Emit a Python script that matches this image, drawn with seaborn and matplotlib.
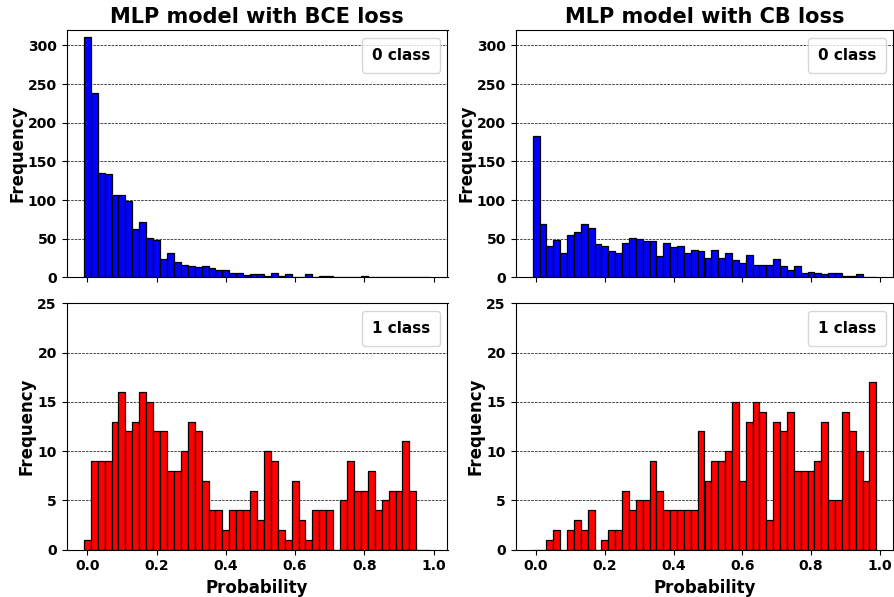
import numpy as np
import pandas as pd
import matplotlib
matplotlib.use("Agg")
import matplotlib.pyplot as plt
import seaborn as sns

# Bin centres (probability) shared by all four histograms
prob_bins = np.round(np.arange(50) * 0.02, 2)

bce_class0 = [311, 239, 135, 134, 106, 107, 99, 62, 72, 51,
              48, 24, 32, 20, 16, 14, 13, 15, 12, 9,
              9, 5, 5, 3, 4, 4, 2, 5, 2, 4,
              1, 1, 4, 1, 2, 2, 1, 1, 0, 1,
              2, 1, 0, 0, 1, 1, 1, 1, 0, 0]
bce_class1 = [1, 9, 9, 9, 13, 16, 12, 13, 16, 15,
              12, 12, 8, 8, 10, 13, 12, 7, 4, 4,
              2, 4, 4, 4, 6, 3, 10, 9, 2, 1,
              7, 3, 1, 4, 4, 4, 0, 5, 9, 6,
              6, 8, 4, 5, 6, 6, 11, 6, 0, 0]
cb_class0 = [183, 69, 41, 48, 32, 55, 58, 69, 64, 43,
             41, 34, 32, 44, 51, 50, 47, 47, 27, 44,
             39, 40, 32, 35, 34, 25, 35, 25, 32, 22,
             18, 29, 16, 16, 16, 24, 15, 10, 14, 5,
             7, 6, 4, 6, 6, 2, 2, 4, 1, 1]
cb_class1 = [0, 0, 1, 2, 0, 2, 3, 2, 4, 0,
             1, 2, 2, 6, 4, 5, 5, 9, 6, 4,
             4, 4, 4, 4, 12, 7, 9, 9, 10, 15,
             7, 13, 15, 14, 3, 13, 12, 14, 8, 8,
             8, 9, 13, 5, 5, 14, 12, 10, 7, 17]

titles = ["MLP model with BCE loss", "MLP model with CB loss"]
legend_labels = ["0 class", "1 class"]
xticks = [0.0, 0.2, 0.4, 0.6, 0.8, 1.0]

plt.rcParams['font.family'] = ['DejaVu Sans']
plt.rcParams['font.weight'] = 'bold'
plt.rcParams['axes.labelweight'] = 'bold'
plt.rcParams['axes.titleweight'] = 'bold'

W, H = 895, 597
fig = plt.figure(figsize=(W / 100, H / 100), dpi=100)

def rect(x0, x1, ytop, ybot):
    return [x0 / W, 1 - ybot / H, (x1 - x0) / W, (ybot - ytop) / H]

cols = [(66.5, 447.5), (515.5, 893.5)]
rows = [(30, 277.3), (303.3, 549.7)]

data = [[bce_class0, cb_class0], [bce_class1, cb_class1]]
colors = ['blue', 'red']
ylims = [(0, 320), (0, 25)]
yticks = [np.arange(0, 301, 50), np.arange(0, 26, 5)]

for r in range(2):
    for c in range(2):
        ax = fig.add_axes(rect(cols[c][0], cols[c][1], rows[r][0], rows[r][1]))
        df = pd.DataFrame({'prob': prob_bins, 'count': data[r][c]})
        sns.histplot(data=df, x='prob', weights='count', binwidth=0.02,
                     binrange=(-0.01, 0.99), ax=ax,
                     color=colors[r], edgecolor='black', linewidth=0.9, alpha=1)
        ax.set_xlim(-0.06, 1.04)
        ax.set_ylim(*ylims[r])
        ax.set_yticks(yticks[r])
        ax.set_xticks(xticks)
        ax.set_axisbelow(True)
        ax.grid(axis='y', color='black', linestyle='--', linewidth=0.5)
        ax.grid(axis='x', visible=False)
        ax.tick_params(labelsize=10)
        for lbl in ax.get_xticklabels() + ax.get_yticklabels():
            lbl.set_fontweight('bold')
        ax.set_ylabel('Frequency', fontsize=12, fontweight='bold', labelpad=1)
        if r == 0:
            ax.set_title(titles[c], fontsize=15, fontweight='bold', pad=5)
            ax.set_xticklabels([])
            ax.set_xlabel('')
        else:
            ax.set_xlabel('Probability', fontsize=12, fontweight='bold')
            ax.set_xticklabels([f"{t:.1f}" for t in xticks])
        h = plt.Line2D([], [], linestyle='none')
        ax.legend([h], [legend_labels[r]], handlelength=0, handletextpad=0,
                  loc='upper right', borderpad=0.65,
                  prop={'weight': 'bold', 'size': 11})

fig.savefig('out.png', dpi=100)
